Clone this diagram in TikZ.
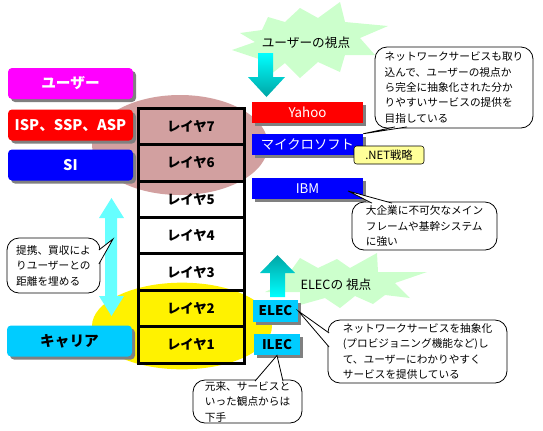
\documentclass[tikz,border=0pt]{standalone}
\usepackage{fontspec}
\setmainfont{Noto Sans CJK JP}
\usetikzlibrary{calc,shadows}

\definecolor{usermag}{RGB}{255,0,255}
\definecolor{carcyan}{RGB}{0,204,255}
\definecolor{burstgreen}{RGB}{204,255,204}
\definecolor{pinkdot}{RGB}{210,160,160}
\definecolor{lightcyan}{RGB}{102,255,255}
\definecolor{arrowteal}{RGB}{0,165,165}
\definecolor{netyellow}{RGB}{255,255,153}

\begin{document}
\begin{tikzpicture}[x=0.75pt,y=-0.75pt,
    shadowed/.style={drop shadow={shadow xshift=2.25pt,shadow yshift=-2.25pt,fill=black!50,opacity=1}},
    leftbox/.style={shadowed,rounded corners=3pt,inner sep=0pt,minimum width=93.75pt,
        minimum height=23.25pt,font=\bfseries\fontsize{11}{13}\selectfont},
    vendor/.style={shadowed,fill=blue,text=white,inner sep=0pt,minimum width=83.25pt,
        minimum height=15.75pt,font=\fontsize{10}{12}\selectfont},
    layer/.style={draw,line width=2.25pt,inner sep=0pt,minimum width=79.5pt,
        minimum height=27.3pt,font=\bfseries\fontsize{10}{12}\selectfont},
    carrier/.style={shadowed,fill=carcyan,inner sep=0pt,minimum height=16pt,
        font=\bfseries\fontsize{10}{12}\selectfont},
    talk/.style={draw,fill=white,line width=0.6pt,rounded corners=9pt,align=left,
        inner sep=0pt,font=\fontsize{8}{11.6}\selectfont},
    burstlabel/.style={font=\fontsize{9.5}{11}\selectfont}]
    \useasboundingbox (0,0) rectangle (543,430);

    % Backgrounds
    \fill[pinkdot] (180,145) ellipse [x radius=66pt, y radius=37.5pt];
    \fill[yellow] (182,326) ellipse [x radius=67.5pt, y radius=32.5pt];

    % Viewpoint bursts
    \fill[burstgreen] (240,33) -- (262,30) -- (268,17) -- (285,22) -- (300,8) -- (318,18)
        -- (340,2) -- (345,22) -- (388,26) -- (360,38) -- (375,55) -- (345,55) -- (340,72)
        -- (318,62) -- (300,78) -- (285,63) -- (270,75) -- (262,60) -- (232,50) -- (255,42) -- cycle;
    \fill[burstgreen] (268,270) -- (290,272) -- (300,258) -- (318,268) -- (337,259) -- (350,268)
        -- (377,253) -- (378,272) -- (427,272) -- (395,283) -- (410,298) -- (385,295)
        -- (373,304) -- (355,296) -- (340,308) -- (325,298) -- (300,305) -- (300,292)
        -- (265,292) -- (285,282) -- cycle;
    \node[burstlabel] (userview) at (306,43) {ユーザーの視点};
    \node[burstlabel] (elecview) at (336,285) {ELECの 視点};

    % Arrows
    \shade[top color=cyan, bottom color=arrowteal] (258,53) -- (273,53) -- (273,77) -- (285,77)
        -- (266.5,97) -- (248,77) -- (258,77) -- cycle;
    \shade[top color=arrowteal, bottom color=cyan] (277.5,255) -- (295,273) -- (285,273)
        -- (285,297) -- (270,297) -- (270,273) -- (260,273) -- cycle;
    \fill[lightcyan] (111.5,198) -- (124,218) -- (117,218) -- (117,296) -- (124,296)
        -- (111.5,316) -- (99,296) -- (105,296) -- (105,218) -- (99,218) -- cycle;

    % Players
    \node[leftbox,fill=usermag,text=white] (user) at (70.5,83.5) {ユーザー};
    \node[leftbox,fill=red,text=white] (isp) at (70.5,125) {ISP、SSP、ASP};
    \node[leftbox,fill=blue,text=white] (si) at (70.5,165) {SI};
    \node[leftbox,fill=carcyan] (carrier) at (69.5,341) {キャリア};

    \node[vendor,fill=red] (yahoo) at (307.5,112.5) {Yahoo};
    \node[vendor] (ms) at (307.5,144.5) {マイクロソフト};
    \node[vendor] (ibm) at (307.5,188.5) {IBM};
    \node[draw,fill=netyellow,rounded corners=2pt,inner sep=0pt,minimum width=52.5pt,
        minimum height=13.5pt,font=\fontsize{8.5}{10}\selectfont] (net) at (389,155) {.NET戦略};

    \node[carrier,minimum width=33.75pt] (elec) at (275.5,311) {ELEC};
    \node[carrier,minimum width=34.5pt] (ilec) at (277,344.5) {ILEC};

    % Layers
    \foreach \i in {1,...,7}
        \node[layer] (lay\i) at (191,{381.2-36.4*\i}) {レイヤ\i};

    % Comments
    \node[talk,minimum width=118.5pt,minimum height=60.75pt] (cnet) at (454,87.5)
        {ネットワークサービスも取り\\込んで、ユーザーの視点か\\ら完全に抽象化された分か\\りやすいサービスの提供を\\目指している};
    \filldraw[fill=white,line width=0.6pt] ($(cnet.south)+(-59,-1.5)$) -- (ms.north east) -- ($(cnet.south)+(-47,-1.5)$);

    \node[talk,minimum width=108.75pt,minimum height=36pt] (cibm) at (424.5,226)
        {大企業に不可欠なメイン\\フレームや基幹システム\\に強い};
    \coordinate (tibm) at (348,191);
    \filldraw[fill=white,line width=0.6pt] ($(cibm.north)+(-52.5,1.5)$) -- (tibm) -- ($(cibm.north)+(-32.5,1.5)$);

    \node[talk,minimum width=69.75pt,minimum height=41.25pt] (cally) at (53.5,265.5)
        {提携、買収によ\\りユーザーとの\\距離を埋める};
    \coordinate (tally) at (113,239);
    \filldraw[fill=white,line width=0.6pt] ($(cally.east)+(-1.5,-15.5)$) -- (tally) -- ($(cally.east)+(-1.5,-1.5)$);

    \node[talk,minimum width=134.25pt,minimum height=47.25pt] (celec) at (417.5,351.5)
        {ネットワークサービスを抽象化\\(プロビジョニング機能など)し\\て、ユーザーにわかりやすく\\サービスを提供している};
    \filldraw[fill=white,line width=0.6pt] ($(celec.west)+(1.5,-18.5)$) -- (elec.east) -- ($(celec.west)+(1.5,-4.5)$);

    \node[talk,minimum width=81.75pt,minimum height=32.25pt] (cilec) at (247.5,401.5)
        {元来、サービスと\\いった観点からは\\下手};
    \filldraw[fill=white,line width=0.6pt] ($(cilec.north)+(7.5,1.5)$) -- (ilec.south) -- ($(cilec.north)+(35.5,1.5)$);
\end{tikzpicture}
\end{document}
